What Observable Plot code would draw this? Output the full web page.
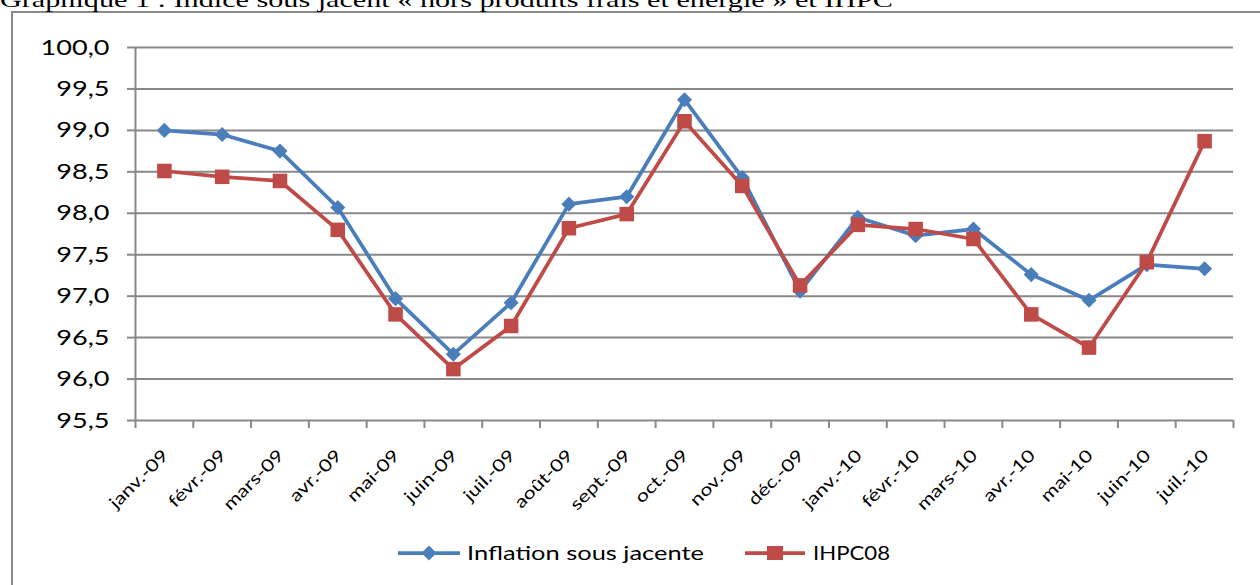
<!DOCTYPE html>
<html>
<head>
<meta charset="utf-8">
<script src="https://cdn.jsdelivr.net/npm/d3@7"></script>
<script src="https://cdn.jsdelivr.net/npm/@observablehq/plot@0.6"></script>
<style>
  html, body { margin: 0; padding: 0; background: #fff; }
  #wrap { position: relative; width: 1260px; height: 585px; overflow: hidden; background: #fff; }
  #frame { position: absolute; left: 11px; top: 11px; width: 1400px; height: 800px; border: 2px solid #8a8a8a; box-sizing: border-box; }
  #chart { position: absolute; left: 0; top: 0; }
  #overlay { position: absolute; left: 0; top: 0; }
</style>
</head>
<body>
<div id="wrap">
  <div id="frame"></div>
  <div id="chart"></div>
  <svg id="overlay" width="1260" height="585"></svg>
</div>
<script>
const title = "Graphique 1 : Indice sous jacent « hors produits frais et énergie » et IHPC";
const months = ["janv.-09","févr.-09","mars-09","avr.-09","mai-09","juin-09","juil.-09","août-09","sept.-09","oct.-09","nov.-09","déc.-09","janv.-10","févr.-10","mars-10","avr.-10","mai-10","juin-10","juil.-10"];
const inflation = [99.00, 98.95, 98.75, 98.07, 96.97, 96.30, 96.92, 98.11, 98.20, 99.37, 98.43, 97.06, 97.95, 97.73, 97.81, 97.26, 96.95, 97.38, 97.33];
const ihpc = [98.51, 98.44, 98.39, 97.80, 96.78, 96.12, 96.64, 97.82, 97.99, 99.11, 98.33, 97.13, 97.86, 97.81, 97.69, 96.78, 96.38, 97.41, 98.87];
const yTicks = [95.5, 96, 96.5, 97, 97.5, 98, 98.5, 99, 99.5, 100];
const seriesNames = ["Inflation sous jacente", "IHPC08"];

const BLUE = "#4A7EBB", RED = "#BE4B48", GRAY = "#888888";
const idx = (d, i) => i;
const boundaries = d3.range(months.length + 1).map(i => i - 0.5);
const fmt = d => d.toFixed(1).replace(".", ",");

const chart = Plot.plot({
  width: 1260,
  height: 530,
  marginTop: 47,
  marginBottom: 110,
  marginLeft: 135,
  marginRight: 27,
  style: { fontFamily: "Lato", fontSize: "17px", color: "#000", background: "transparent", overflow: "visible" },
  x: { type: "linear", domain: [-0.5, months.length - 0.5] },
  y: { domain: [95.5, 100] },
  marks: [
    Plot.gridY(yTicks, { stroke: GRAY, strokeOpacity: 1, strokeWidth: 2 }),
    Plot.ruleX([-0.5], { stroke: GRAY, strokeWidth: 2 }),
    Plot.axisY(yTicks, { tickSize: 8, tickPadding: 18, tickFormat: fmt, fontSize: 22, stroke: GRAY, strokeWidth: 2, fill: "#000", label: null }),
    Plot.axisX(boundaries, { tickSize: 8, tickFormat: () => "", stroke: GRAY, strokeWidth: 2, label: null }),
    Plot.text(months, { x: idx, frameAnchor: "bottom", text: d => d, rotate: -45, textAnchor: "end", lineAnchor: "bottom", dx: 5, dy: 36, fontSize: 17, fill: "#000" }),
    Plot.line(inflation, { x: idx, y: d => d, stroke: BLUE, strokeWidth: 3.75 }),
    Plot.dot(inflation, { x: idx, y: d => d, symbol: "diamond2", r: 6.8, fill: BLUE, stroke: "none" }),
    Plot.line(ihpc, { x: idx, y: d => d, stroke: RED, strokeWidth: 3.75 }),
    Plot.dot(ihpc, { x: idx, y: d => d, symbol: "square", r: 8.2, fill: RED, stroke: "none" })
  ]
});
document.getElementById("chart").append(chart);

function stretch(sel, factor) {
  chart.querySelectorAll(sel).forEach(t => {
    if (!t.textContent) return;
    const L = t.getComputedTextLength();
    t.setAttribute("textLength", L * factor);
    t.setAttribute("lengthAdjust", "spacingAndGlyphs");
  });
}
stretch('g[aria-label="y-axis tick label"] text', 1.23);
stretch('g[aria-label="text"] text', 1.25);

// Title and legend overlay
const ov = d3.select("#overlay");
ov.append("text")
  .attr("x", 0).attr("y", 7)
  .attr("font-family", "Liberation Serif")
  .attr("font-size", 22)
  .attr("textLength", 893).attr("lengthAdjust", "spacingAndGlyphs")
  .text(title);

const legendItems = [
  { name: seriesNames[0], color: BLUE, x0: 398, x1: 460, tx: 467, tw: 237, sym: "diamond" },
  { name: seriesNames[1], color: RED, x0: 745, x1: 805, tx: 813, tw: 77, sym: "square" }
];
const ly = 553;
legendItems.forEach(it => {
  ov.append("line").attr("x1", it.x0).attr("x2", it.x1).attr("y1", ly).attr("y2", ly)
    .attr("stroke", it.color).attr("stroke-width", 3.75);
  const cx = (it.x0 + it.x1) / 2;
  if (it.sym === "diamond") {
    ov.append("path").attr("d", `M${cx},${ly - 7.5}L${cx + 7.5},${ly}L${cx},${ly + 7.5}L${cx - 7.5},${ly}Z`).attr("fill", it.color);
  } else {
    ov.append("rect").attr("x", cx - 8).attr("y", ly - 7).attr("width", 16).attr("height", 14).attr("fill", it.color);
  }
  ov.append("text").attr("x", it.tx).attr("y", 560)
    .attr("font-family", "Lato").attr("font-size", 19)
    .attr("textLength", it.tw).attr("lengthAdjust", "spacingAndGlyphs")
    .text(it.name);
});
</script>
</body>
</html>
